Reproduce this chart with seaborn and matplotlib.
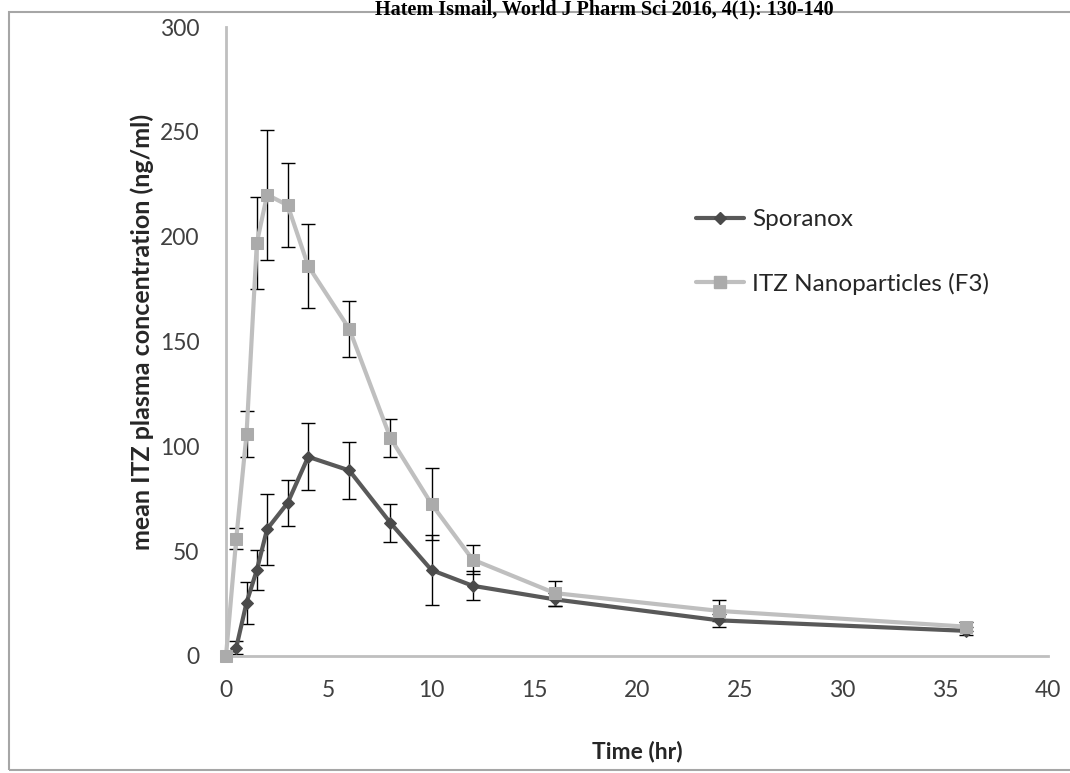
import pandas as pd
import numpy as np
import matplotlib.pyplot as plt
import seaborn as sns
from matplotlib.patches import Rectangle
from matplotlib.lines import Line2D

time_hr = [0, 0.5, 1, 1.5, 2, 3, 4, 6, 8, 10, 12, 16, 24, 36]
sporanox = [0, 4, 25.5, 41, 60.5, 73, 95, 88.5, 63.5, 41, 33.5, 27, 17, 12]
sporanox_err = [0, 3, 10, 9.5, 17, 11, 16, 13.5, 9, 16.5, 7, 3, 3, 2]
itz_nano = [0, 56, 106, 197, 220, 215, 186, 156, 104, 72.5, 46, 30, 21.5, 14]
itz_err = [0, 5, 11, 22, 31, 20, 20, 13.5, 9, 17, 7, 6, 5, 2]

series_names = ['Sporanox', 'ITZ Nanoparticles (F3)']

df = pd.concat([
    pd.DataFrame({'Time': time_hr, 'Conc': sporanox, 'Err': sporanox_err, 'Series': series_names[0]}),
    pd.DataFrame({'Time': time_hr, 'Conc': itz_nano, 'Err': itz_err, 'Series': series_names[1]}),
])

sns.set_style('white')
plt.rcParams['font.family'] = ['Lato', 'DejaVu Sans']

fig = plt.figure(figsize=(10.7, 7.73), dpi=100)
ax = fig.add_axes([226 / 1070, 1 - 656 / 773, 822 / 1070, 629 / 773])

line_colors = {series_names[0]: '#595959', series_names[1]: '#BFBFBF'}
marker_colors = {series_names[0]: '#4A4A4A', series_names[1]: '#ABABAB'}
marker_sizes = {series_names[0]: 6, series_names[1]: 8}

# error bars first, so the lines sit on top like in Excel
for name in series_names:
    sub = df[df['Series'] == name]
    ax.errorbar(sub['Time'], sub['Conc'], yerr=sub['Err'], fmt='none',
                ecolor='black', elinewidth=1, capsize=5, capthick=1, zorder=2)

sns.lineplot(data=df, x='Time', y='Conc', hue='Series', style='Series',
             markers={series_names[0]: 'D', series_names[1]: 's'}, dashes=False,
             palette=line_colors, linewidth=3, ax=ax, zorder=3, legend=False)

for line, name in zip(ax.get_lines()[-2:], series_names):
    line.set_markerfacecolor(marker_colors[name])
    line.set_markeredgecolor(marker_colors[name])
    line.set_markersize(marker_sizes[name])
    line.set_clip_on(False)

ax.set_xlim(0, 40)
ax.set_ylim(0, 300)
ax.set_xticks(range(0, 41, 5))
ax.set_yticks(range(0, 301, 50))

for s in ['top', 'right']:
    ax.spines[s].set_visible(False)
for s in ['left', 'bottom']:
    ax.spines[s].set_color('#BFBFBF')
    ax.spines[s].set_linewidth(2)

ax.tick_params(axis='both', which='both', direction='out', length=7, width=1.5,
               color='#BFBFBF', labelsize=16.5, labelcolor='#404040')
ax.tick_params(axis='y', pad=12)
ax.tick_params(axis='x', pad=10)

ax.set_xlabel('Time (hr)', fontsize=16.5, fontweight='bold', color='#262626')
ax.set_ylabel('mean ITZ plasma concentration (ng/ml)', fontsize=18, fontweight='bold',
              color='#262626')
ax.yaxis.set_label_coords(-0.088, 0.515)
ax.xaxis.set_label_coords(0.5, -0.134)

handles = [
    Line2D([], [], color=line_colors[n], linewidth=3, marker=m, markersize=marker_sizes[n],
           markerfacecolor=marker_colors[n], markeredgecolor=marker_colors[n])
    for n, m in zip(series_names, ['D', 's'])
]
leg = ax.legend(handles, series_names, loc='upper left', bbox_to_anchor=(0.545, 0.745),
                frameon=False, fontsize=17.5, handlelength=2.0, handletextpad=0.3,
                labelspacing=1.75, numpoints=1)
for t in leg.get_texts():
    t.set_color('#262626')

# outer chart border and the journal header at the top
fig.patches.append(Rectangle((9 / 1070, 3 / 773), 1.1, 758 / 773, transform=fig.transFigure,
                             fill=False, edgecolor='#A6A6A6', linewidth=1.5, zorder=0))
fig.text(0.565, 1 - 14 / 773, 'Hatem Ismail, World J Pharm Sci 2016, 4(1): 130-140',
         ha='center', va='baseline', fontsize=14.5, fontweight='bold',
         family='Liberation Serif', color='black')

plt.savefig('out.png', dpi=100)
